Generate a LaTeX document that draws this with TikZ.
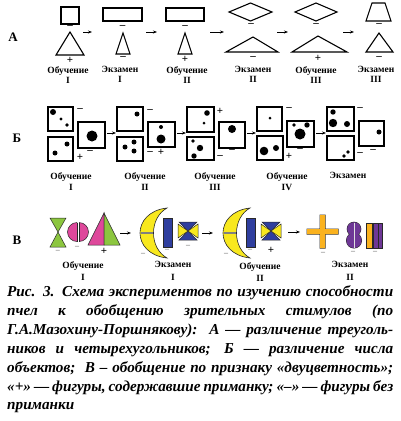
\documentclass[tikz,border=0pt]{standalone}
\usepackage{fontspec}
\setmainfont{Liberation Serif}
\usetikzlibrary{arrows.meta}
\definecolor{cgreen}{RGB}{140,198,63}
\definecolor{cpink}{RGB}{222,72,155}
\definecolor{cyellow}{RGB}{248,232,30}
\definecolor{cblue}{RGB}{47,62,158}
\definecolor{corange}{RGB}{250,178,30}
\definecolor{cpurple}{RGB}{110,55,150}
\definecolor{outl}{RGB}{40,40,40}
\begin{document}
\begin{tikzpicture}[x=1pt,y=-1pt,
 ln/.style={draw=black, line width=1.1pt, line join=miter},
 sq/.style={draw=black, line width=1.1pt},
 cl/.style={draw=outl, line width=0.5pt},
 sg/.style={inner sep=0pt, font=\bfseries\fontsize{11}{11}\selectfont},
 sgs/.style={inner sep=0pt, font=\fontsize{8}{8}\selectfont, text=darkgray},
 lbl/.style={align=center, inner sep=0pt, anchor=north, font=\bfseries\fontsize{9.5}{10.5}\selectfont},
 lblb/.style={align=center, inner sep=0pt, anchor=north, font=\bfseries\fontsize{9.5}{11}\selectfont},
 lblc/.style={align=center, inner sep=0pt, anchor=north, font=\bfseries\fontsize{9.5}{12.7}\selectfont},
 rowl/.style={inner sep=0pt, font=\bfseries\fontsize{13}{13}\selectfont},
 arr/.style={-{Stealth[length=4pt,width=3pt]}, line width=0.7pt},
 captxt/.style={inner sep=0pt, anchor=base west, font=\bfseries\itshape\fontsize{15.2}{18}\selectfont},
]
\useasboundingbox (0,0) rectangle (400,421);

% ===== Row A =====
\node[rowl] (rA) at (13,37.5) {А};
% 1
\draw[ln] (61,7) rectangle (79,24);
\node[sg] (a1m) at (70,27.5) {–};
\draw[ln] (70,32) -- (84,55) -- (56,55) -- cycle;
\node[sg] (a1p) at (70,60) {+};
\node[lbl] (a1l) at (68,66) {Обучение\\I};
% 2
\draw[ln] (103,8) rectangle (142,21);
\node[sg] (a2m) at (122.5,27) {–};
\draw[ln] (123,33) -- (130,54) -- (116,54) -- cycle;
\node[sg] (a2n) at (123,58) {–};
\node[lbl] (a2l) at (120,66) {Экзамен\\I};
% 3
\draw[ln] (166,8) rectangle (204,21);
\node[sg] (a3m) at (185,27) {–};
\draw[ln] (185,33) -- (192,54) -- (178,54) -- cycle;
\node[sg] (a3p) at (185,59) {+};
\node[lbl] (a3l) at (187,66) {Обучение\\II};
% 4
\draw[ln] (229,12) -- (250.5,3) -- (272,12) -- (250.5,21) -- cycle;
\node[sg] (a4m) at (251,25) {–};
\draw[ln] (253,37) -- (278,52) -- (226,52) -- cycle;
\node[sg] (a4n) at (253,58) {–};
\node[lbl] (a4l) at (253,66) {Экзамен\\II};
% 5
\draw[ln] (295,12) -- (316,3) -- (337,12) -- (316,21) -- cycle;
\node[sg] (a5m) at (316,25) {–};
\draw[ln] (318,36) -- (347,52) -- (292,52) -- cycle;
\node[sg] (a5p) at (318,58) {+};
\node[lbl] (a5l) at (316,66) {Обучение\\III};
% 6
\draw[ln] (372,3) -- (385,3) -- (391,21) -- (366,21) -- cycle;
\node[sg] (a6m) at (379,25) {–};
\draw[ln] (379,33) -- (393,52) -- (366,52) -- cycle;
\node[sg] (a6n) at (379,58) {–};
\node[lbl] (a6l) at (376,66) {Экзамен\\III};
% arrows
\coordinate (aa1) at (83,32); \coordinate (ab1) at (92,32);
\coordinate (aa2) at (146,32); \coordinate (ab2) at (157,32);
\coordinate (aa3) at (210,32); \coordinate (ab3) at (224,32);
\coordinate (aa4) at (277,32); \coordinate (ab4) at (288,32);
\coordinate (aa5) at (343,32); \coordinate (ab5) at (354,32);
\foreach \i in {1,...,5} \draw[arr] (aa\i) -- (ab\i);

% ===== Row B (Б) =====
\node[rowl] (rB) at (17,138) {Б};
% group 1
\draw[sq] (48,107) rectangle (73,131);
\draw[sq] (48,137) rectangle (73,161);
\draw[sq] (78,122) rectangle (105,148);
\fill (53,112) circle[radius=3pt] (61,119) circle[radius=1.7pt] (67,125) circle[radius=1.8pt];
\fill (67,144) circle[radius=2.5pt] (55,153) circle[radius=2.5pt];
\fill (92,136) circle[radius=5.5pt];
\node[sg] (b1m) at (80,110) {–};
\node[sg] (b1p) at (80,157) {+};
\node[sg] (b1n) at (90,152) {–};
\node[lblb] (b1l) at (71,172) {Обучение\\I};
% group 2
\draw[sq] (117,107) rectangle (143,131);
\draw[sq] (117,137) rectangle (143,161);
\draw[sq] (148,122) rectangle (175,147);
\fill (137,114) circle[radius=2.5pt];
\fill (125,147) circle[radius=2.5pt] (134,142) circle[radius=2.5pt] (134,151) circle[radius=2.5pt];
\fill (161,127) circle[radius=2pt] (161,139) circle[radius=4.5pt];
\node[sg] (b2m) at (150,111) {–};
\node[sg] (b2n) at (150,153) {–};
\node[sg] (b2p) at (161,152) {+};
\node[lblb] (b2l) at (145,172) {Обучение\\II};
% group 3
\draw[sq] (187,107) rectangle (214,132);
\draw[sq] (187,137) rectangle (214,160);
\draw[sq] (219,122) rectangle (245,148);
\fill (207,113) circle[radius=2.8pt] (204,123) circle[radius=1.5pt];
\fill (193,141) circle[radius=1.8pt] (200,148) circle[radius=3.2pt] (194,156) circle[radius=2.7pt];
\fill (232,129) circle[radius=4pt];
\node[sg] (b3p) at (220,111) {+};
\node[sg] (b3m) at (220,157) {–};
\node[sg] (b3n) at (232,151) {–};
\node[lblb] (b3l) at (215,172) {Обучение\\III};
% group 4
\draw[sq] (257,107) rectangle (282,131);
\draw[sq] (257,136) rectangle (283,160);
\draw[sq] (287,121) rectangle (314,147);
\fill (270,118) circle[radius=1.5pt];
\fill (264,151) circle[radius=4.3pt] (276,148) circle[radius=3pt];
\fill (294,125) circle[radius=1.8pt] (307,125) circle[radius=2.7pt] (300,134) circle[radius=5.5pt];
\node[sg] (b4m) at (289,109) {–};
\node[sg] (b4p) at (289,156) {+};
\node[sg] (b4n) at (300,150) {–};
\node[lblb] (b4l) at (287,172) {Обучение\\IV};
% group 5
\draw[sq] (327,107) rectangle (354,131);
\draw[sq] (327,136) rectangle (354,160);
\draw[sq] (359,121) rectangle (384,146);
\fill (333,112) circle[radius=2.7pt] (333,123) circle[radius=4.2pt] (347,124) circle[radius=3pt];
\fill (348,152) circle[radius=1.8pt] (344,156) circle[radius=1.8pt];
\fill (379,132) circle[radius=2.5pt];
\node[sg] (b5m) at (360,109) {–};
\node[sg] (b5n) at (360,154) {–};
\node[sg] (b5o) at (373,151) {–};
\node[lblb] (b5l) at (348,172) {Экзамен};
% arrows
\coordinate (ba1) at (107,133); \coordinate (bb1) at (116,133);
\coordinate (ba2) at (177,133); \coordinate (bb2) at (186,133);
\coordinate (ba3) at (247,133); \coordinate (bb3) at (256,133);
\coordinate (ba4) at (316,133); \coordinate (bb4) at (326,133);
\foreach \i in {1,...,4} \draw[arr] (ba\i) -- (bb\i);

% ===== Row C (В) =====
\node[rowl] (rC) at (17,240) {В};
% hourglass
\filldraw[cl, fill=cgreen] (50,218) -- (66,218) -- (58,232) -- cycle;
\filldraw[cl, fill=cgreen] (50,247) -- (66,247) -- (58,232) -- cycle;
\node[sgs] (c1m) at (58,251) {–};
% split circle
\begin{scope}
 \clip (60,215) rectangle (77,250);
 \filldraw[cl, fill=cpink] (77,232) circle[radius=9.5pt];
\end{scope}
\draw[cl] (77,222.5) -- (77,241.5);
\begin{scope}
 \clip (79,215) rectangle (95,250);
 \filldraw[cl, fill=cpink] (79,232) circle[radius=9.5pt];
\end{scope}
\draw[cl] (79,222.5) -- (79,241.5);
\node[sgs] (c2m) at (77,247) {–};
% split triangle
\filldraw[cl, fill=cpink] (104,213) -- (104,245) -- (88,245) -- cycle;
\filldraw[cl, fill=cgreen] (104,213) -- (120,245) -- (104,245) -- cycle;
\node[sg] (c3p) at (104,251) {+};
% crescents, bars and bow-ties
\foreach \s in {0,83} {
 \begin{scope}[shift={(\s,0)}]
  \filldraw[cl, line width=0.6pt, fill=cyellow] (167,208) .. controls (131,212) and (131,254) .. (167,258)
     .. controls (149,248) and (149,218) .. (167,208) -- cycle;
  \draw[gray, line width=1.3pt] (140.6,233) -- (153,233);
  \filldraw[cl, fill=cblue] (163,218) rectangle (172,247);
  \filldraw[cl, fill=cblue] (179,222) -- (197,222) -- (188,231) -- cycle;
  \filldraw[cl, fill=cblue] (179,240) -- (197,240) -- (188,231) -- cycle;
  \filldraw[cl, fill=cyellow] (178,224) -- (178,238) -- (188,231) -- cycle;
  \filldraw[cl, fill=cyellow] (198,224) -- (198,238) -- (188,231) -- cycle;
 \end{scope}
}
\node[sgs] (c4m) at (143,254) {–};
\node[sgs] (c5m) at (167,250) {–};
\node[sgs] (c6m) at (188,246) {–};
\node[sgs] (c7m) at (226,254) {–};
\node[sgs] (c8m) at (250,250) {–};
\node[sg] (c9p) at (271,250) {+};
% cross
\fill[outl] (319.5,214.5) rectangle (325.5,248.5) (306.5,228.5) rectangle (338.5,234.5);
\fill[corange] (320,215) rectangle (325,248) (307,229) rectangle (338,234);
\node[sgs] (c10m) at (323,253) {–};
% figure eight
\fill[outl] (354,229) circle[radius=7.3pt] (354,240.5) circle[radius=8pt];
\fill[cpurple] (354,229) circle[radius=6.8pt] (354,240.5) circle[radius=7.5pt];
\draw[white!75!gray, line width=0.8pt] (354,222.5) -- (354,248);
\node[sgs] (c11m) at (353,252) {–};
% bars
\filldraw[cl, fill=corange] (366,223) rectangle (372.5,248);
\filldraw[cl, fill=cpurple] (373.5,223) rectangle (382,248);
\draw[outl, line width=0.5pt] (377.8,223) -- (377.8,248);
\node[sgs] (c12m) at (375,252) {–};
% labels
\node[lblc] (c1l) at (83,261) {Обучение\\I};
\node[lblc] (c2l) at (173,261) {Экзамен\\I};
\node[lblc] (c3l) at (260,262) {Обучение\\II};
\node[lblc] (c4l) at (350,261) {Экзамен\\II};
% arrows
\coordinate (ca1) at (120,233); \coordinate (cb1) at (131,233);
\coordinate (ca2) at (202,233); \coordinate (cb2) at (213,233);
\coordinate (ca3) at (288,232); \coordinate (cb3) at (300,232);
\foreach \i in {1,...,3} \draw[arr] (ca\i) -- (cb\i);

% ===== Caption =====
\node[captxt] (t1) at (7,296) {\makebox[386pt][s]{Рис. 3. Схема экспериментов по изучению способности}};
\node[captxt] (t2) at (7,315) {\makebox[386pt][s]{пчел к обобщению зрительных стимулов (по}};
\node[captxt] (t3) at (7,334) {\makebox[386pt][s]{Г.А.Мазохину-Поршнякову):\ \ А — различение треуголь-}};
\node[captxt] (t4) at (7,353) {\makebox[386pt][s]{ников и четырехугольников; Б — различение числа}};
\node[captxt] (t5) at (7,372) {\makebox[386pt][s]{объектов;\ \ В – обобщение по признаку «двуцветность»;}};
\node[captxt] (t6) at (7,391) {\makebox[386pt][s]{«+» — фигуры, содержавшие приманку; «–» — фигуры без}};
\node[captxt] (t7) at (7,409) {приманки};
\end{tikzpicture}
\end{document}
